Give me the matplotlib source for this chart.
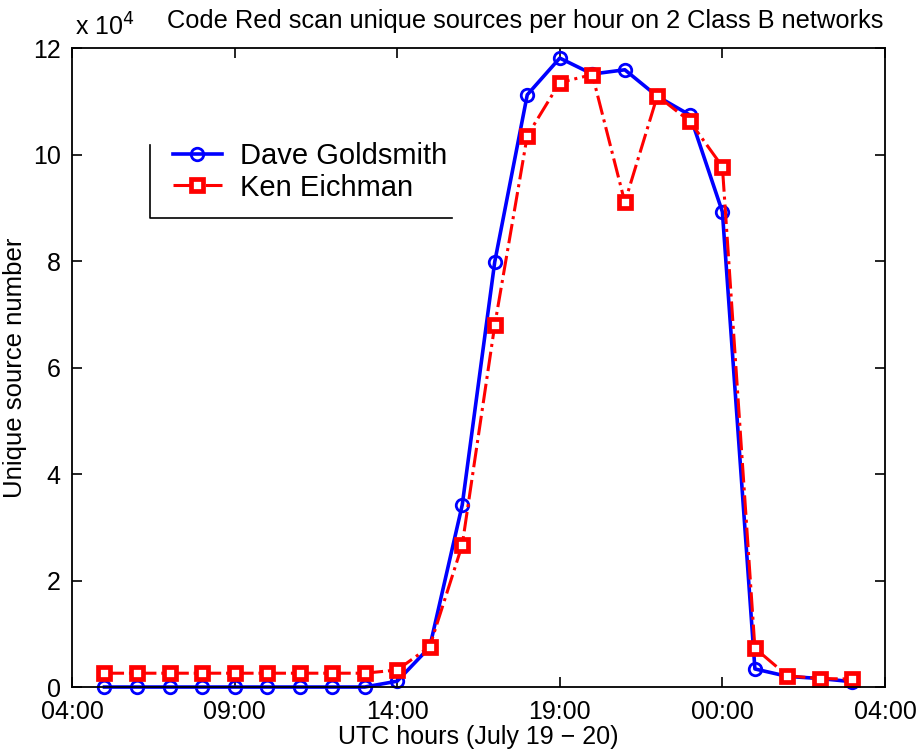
import numpy as np
import matplotlib
matplotlib.use('Agg')
import matplotlib.pyplot as plt
from matplotlib.lines import Line2D

plt.rcParams['font.family'] = ['Liberation Sans', 'DejaVu Sans']

# hours since 04:00 UTC on July 19
hours = list(range(1, 25))

# unique sources (x 10^4)
dave = [0.0, 0.0, 0.0, 0.0, 0.0, 0.0, 0.0, 0.0, 0.0, 0.11,
        0.75, 3.42, 7.99, 11.13, 11.82, 11.52, 11.6, 11.1,
        10.75, 8.93, 0.34, 0.2, 0.16, 0.1]
ken = [0.26, 0.26, 0.26, 0.26, 0.26, 0.26, 0.26, 0.26, 0.26, 0.32,
       0.76, 2.67, 6.8, 10.36, 11.36, 11.51, 9.11, 11.11,
       10.63, 9.78, 0.73, 0.21, 0.16, 0.15]

tick_pos = [0, 5, 10, 15, 20, 25]
tick_labels = ['04:00', '09:00', '14:00', '19:00', '00:00', '04:00']

fig = plt.figure(figsize=(9.19, 7.53), dpi=100)
ax = fig.add_axes([0.0783, 0.0876, 0.8847, 0.848])

ax.plot(hours, dave, color='blue', lw=2.6, marker='o', ms=9,
        mfc='none', mec='blue', mew=2.0, label='Dave Goldsmith', clip_on=False)
ax.plot(hours, ken, color='red', lw=2.2, ls='-.', marker='s', ms=9,
        mfc='white', mec='red', mew=3.4, label='Ken Eichman', clip_on=False)

ax.set_xlim(0, 25)
ax.set_ylim(0, 12)
ax.set_xticks(tick_pos)
ax.set_xticklabels(tick_labels)
ax.set_yticks(range(0, 13, 2))
ax.tick_params(direction='in', length=7, width=1.2, labelsize=18,
               top=True, right=True, pad=6)
ax.tick_params(axis='x', pad=9)
ax.tick_params(axis='y', pad=8)
for s in ax.spines.values():
    s.set_linewidth(1.3)

ax.set_xlabel('UTC hours (July 19 \u2212 20)', fontsize=18, labelpad=1)
ax.set_ylabel('Unique source number', fontsize=18.5, labelpad=4)
fig.text(0.571, 0.963, 'Code Red scan unique sources per hour on 2 Class B networks',
         ha='center', va='baseline', fontsize=18.3)
fig.text(0.082, 0.953, 'x 10$^4$', ha='left', va='baseline', fontsize=18)

leg = ax.legend(loc='upper left', bbox_to_anchor=(0.095, 0.89), fontsize=21,
                frameon=False, handlelength=1.7, handletextpad=0.6,
                labelspacing=0.12, borderpad=0.3)
# legend box: only left and bottom edges visible
fig.add_artist(Line2D([0.163, 0.163, 0.492], [0.807, 0.711, 0.711],
                      transform=fig.transFigure, color='black', lw=1.2))

fig.savefig('out.png', dpi=100)
